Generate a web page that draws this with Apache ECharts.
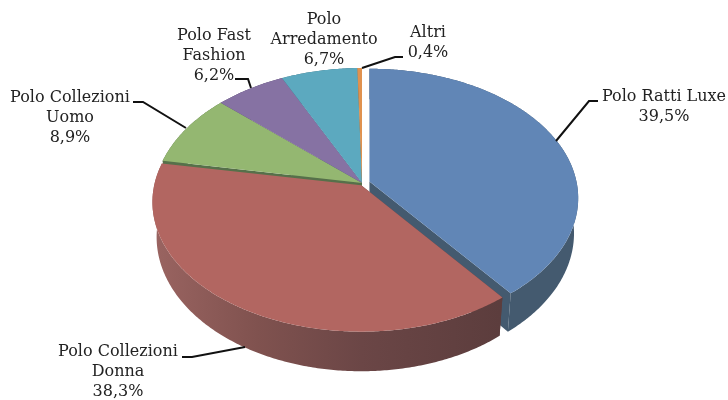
<!DOCTYPE html>
<html><head><meta charset="utf-8">
<style>html,body{margin:0;padding:0;background:#fff}#c{width:728px;height:400px}</style>
<script src="https://cdn.jsdelivr.net/npm/echarts@6/dist/echarts.min.js"></script>
</head><body><div id="c"></div>
<script>
const categories = ['Polo Ratti Luxe','Polo Collezioni\nDonna','Polo Collezioni\nUomo','Polo Fast\nFashion','Polo\nArredamento','Altri'];
const shares = [39.5,38.3,8.9,6.2,6.7,0.4];
const topColors = ['#6186B6','#B26661','#94B771','#8672A3','#5CA9BF','#E0924F'];
const wallColors = ['#445A6F',null,'#56704A','#51456A','#3A6A78','#8A5A30'];
const wallOrder = [1,2,2.5,2,2,2];
// slice displacement in the pie plane (blue pulled out, red nudged) and vertical squeeze
const explode = [[0.036,-0.012],[-0.004,0.018],[0,0],[0,0],[0,0],[0,0]];
const squeeze = [0.98,0.982,1,1,1,1];
// label layout: text centre and leader-line points
const labelCenters = [[664,107],[118,372],[70,118],[214,56],[324,40],[428,43]];
const leaders = [
  [[598,101],[589,101],[556,141]],
  [[182,357],[192,357],[245,347]],
  [[133,102],[143,102],[186,128]],
  [[235,79],[248,79],[251,88]],
  null,
  [[403,57],[395,57],[362,68]]
];
const cx=362, cy=183, R=207, B=129.8, P=0.1288, D=34.5, Q=0.98;
const chart = echarts.init(document.getElementById('c'),null,{renderer:'canvas'});
const cum = shares.map((_,i)=>shares.slice(0,i).reduce((a,b)=>a+b,0));
const total = shares.reduce((a,b)=>a+b,0);
function proj(u,v,ex,sq,bottom){
  const s=1/(1-P*v);
  const k=bottom?Q:1;
  return [cx+R*(u*s*k+ex[0]), cy+B*(ex[1]+v*s*sq)+(bottom?D*s:0)];
}
function arc(a0,a1,ex,sq,bottom){
  const pts=[], n=Math.max(2,Math.ceil(Math.abs(a1-a0)/0.01));
  for(let j=0;j<=n;j++){const a=a0+(a1-a0)*j/n; pts.push(proj(Math.sin(a),-Math.cos(a),ex,sq,bottom));}
  return pts;
}
const redWall = new echarts.graphic.LinearGradient(153,0,500,0,[
  {offset:0,color:'#9A6461'},{offset:.3,color:'#80524F'},{offset:.6,color:'#6B4646'},{offset:1,color:'#5C3D3D'}],true);
chart.setOption({
  animation:false,
  xAxis:{show:false,min:0,max:1},yAxis:{show:false,min:0,max:1},
  grid:{left:0,right:0,top:0,bottom:0},
  series:[{
    type:'custom',coordinateSystem:'none',silent:true,clip:false,
    data:shares.map((v,i)=>[i,v,cum[i]]),
    renderItem(params,api){
      const i=api.value(0), val=api.value(1), st=api.value(2);
      const a0=st/total*2*Math.PI, a1=(st+val)/total*2*Math.PI, ex=explode[i], sq=squeeze[i];
      const topArc=arc(a0,a1,ex,sq,false), botArc=arc(a0,a1,ex,sq,true);
      const apex=proj(0,0,ex,sq,false), apexB=proj(0,0,ex,sq,true);
      const wallFill = wallColors[i]||redWall;
      const wallZ = wallOrder[i];
      const last=topArc.length-1;
      const children=[
        {type:'polygon',z2:wallZ,shape:{points:topArc.concat(botArc.slice().reverse())},style:{fill:wallFill}},
        {type:'polygon',z2:wallZ,shape:{points:[apex,topArc[last],botArc[last],apexB]},style:{fill:wallFill}},
        {type:'polygon',z2:wallZ,shape:{points:[apex,topArc[0],botArc[0],apexB]},style:{fill:wallFill}},
        {type:'polygon',z2:3,shape:{points:[apex].concat(topArc)},style:{fill:topColors[i]}}
      ];
      if(leaders[i]) children.push({type:'polyline',z2:5,shape:{points:leaders[i]},style:{fill:null,stroke:'#111',lineWidth:2}});
      children.push({type:'text',z2:6,x:labelCenters[i][0],y:labelCenters[i][1],style:{
        text:categories[i]+'\n'+val.toFixed(1).replace('.',',')+'%',
        font:'16px "DejaVu Serif"',lineHeight:20,fill:'#222',align:'center',verticalAlign:'middle'}});
      return {type:'group',children};
    }
  }]
});
</script></body></html>
